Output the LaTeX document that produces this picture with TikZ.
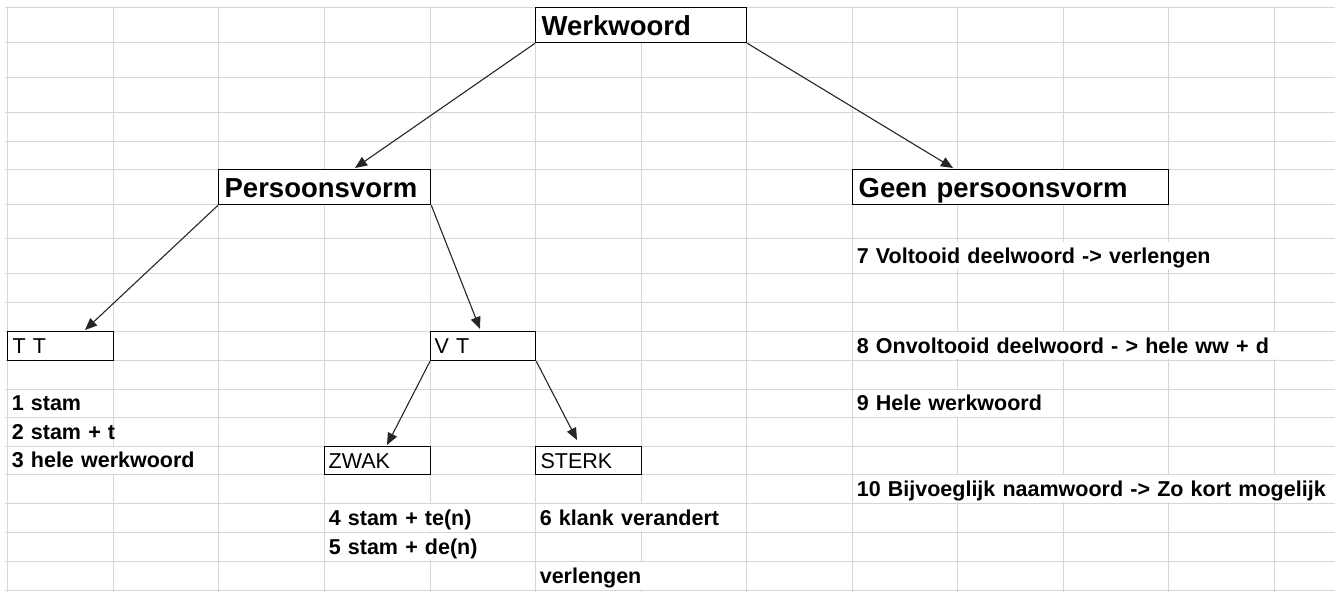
\documentclass[tikz,border=0pt]{standalone}
\usepackage{fontspec}
\setmainfont{Liberation Sans}
\usetikzlibrary{arrows.meta, positioning, calc}

\begin{document}
\begin{tikzpicture}[
      x=1pt, y=-1pt,
      cell/.style  = {draw=black!16, line width=1pt},
      head/.style  = {draw, fill=white, line width=1.3pt, anchor=north west,
                      inner xsep=6pt, inner ysep=0pt, minimum height=35pt, align=left,
                      font=\fontsize{27.5}{27.5}\selectfont\bfseries,
                      text height=19.7pt, text depth=0pt},
      leaf/.style  = {draw, fill=white, line width=1.3pt, anchor=north west,
                      inner xsep=4pt, inner ysep=0pt, minimum height=29pt, align=left,
                      font=\fontsize{21.5}{21.5}\selectfont,
                      text height=15.4pt, text depth=0pt},
      note/.style  = {anchor=west, fill=white, inner xsep=4pt, inner ysep=0pt,
                      minimum height=27pt, text width=#1, align=left,
                      font=\fontsize{21.5}{21.5}\selectfont\bfseries,
                      text height=15.4pt, text depth=0pt,
                      execute at begin node=\hbox\bgroup,
                      execute at end node=\egroup},
      arr/.style   = {-{Triangle[length=12pt, width=10pt]}, line width=1.1pt, black!85}
    ]

    % ---- background and spreadsheet grid ----
    \fill[white] (0,0) rectangle (1344,592);
    \useasboundingbox (0,0) rectangle (1344,592);
    \foreach \y in {7,42,77,112,141,169,204,238,273,302,331,360,389,417,446,474,503,532,561,590}
      \draw[cell] (5,\y) -- (1335,\y);
    \foreach \x in {7,113,218,324,430,535,641,746,852,957,1063,1168,1274}
      \draw[cell] (\x,7) -- (\x,592);

    % ---- boxes ----
    \node[head, text width=199pt] (werk)  at (535,7)   {Werkwoord};
    \node[head, text width=200pt] (pv)    at (218,169) {Persoonsvorm};
    \node[head, text width=304pt] (geen)  at (852,169) {Geen persoonsvorm};
    \node[leaf, text width=96pt, inner xsep=5pt] (tt) at (7,331) {T T};
    \node[leaf, text width=97pt]  (vt)    at (430,331) {V T};
    \node[leaf, text width=98pt, minimum height=28pt] (zwak)  at (324,446) {ZWAK};
    \node[leaf, text width=96pt, minimum height=28pt, inner xsep=5pt] (sterk) at (535,446) {STERK};

    % ---- rules under T T ----
    \node[note=96pt]  (s1) at (7.6,403)   {1 stam};
    \node[note=96pt]  (s2) at (7.6,431.5) {2 stam + t};
    \node[note=201pt] (s3) at (7.6,460)   {3 hele werkwoord};

    % ---- rules under ZWAK and STERK ----
    \node[note=201pt] (s4)  at (324.6,517.5) {4 stam + te(n)};
    \node[note=201pt] (s5)  at (324.6,546.5) {5 stam + de(n)};
    \node[note=201pt] (s6)  at (535.6,517.5) {6 klank verandert};
    \node[note=201pt] (s6b) at (535.6,575.5) {verlengen};

    % ---- rules under Geen persoonsvorm ----
    \node[note=412pt] (s7)  at (852.6,255.5) {7 Voltooid deelwoord -> verlengen};
    \node[note=472pt] (s8)  at (852.6,345.5) {8 Onvoltooid deelwoord - > hele ww + d};
    \node[note=201pt] (s9)  at (852.6,403)   {9 Hele werkwoord};
    \node[note=472pt] (s10) at (852.6,488.5) {10 Bijvoeglijk naamwoord -> Zo kort mogelijk};

    % ---- arrows ----
    \draw[arr] (werk.south west) -- ([xshift=137pt, yshift=1pt]pv.north west);
    \draw[arr] (werk.south east) -- ([xshift=101pt, yshift=1pt]geen.north west);
    \draw[arr] (pv.south west)   -- ([xshift=78pt, yshift=1pt]tt.north west);
    \draw[arr] (pv.south east)   -- ([xshift=50pt, yshift=2pt]vt.north west);
    \draw[arr] (vt.south west)   -- ([xshift=63pt, yshift=1pt]zwak.north west);
    \draw[arr] (vt.south east)   -- ([xshift=42pt, yshift=6pt]sterk.north west);

  \end{tikzpicture}
\end{document}
